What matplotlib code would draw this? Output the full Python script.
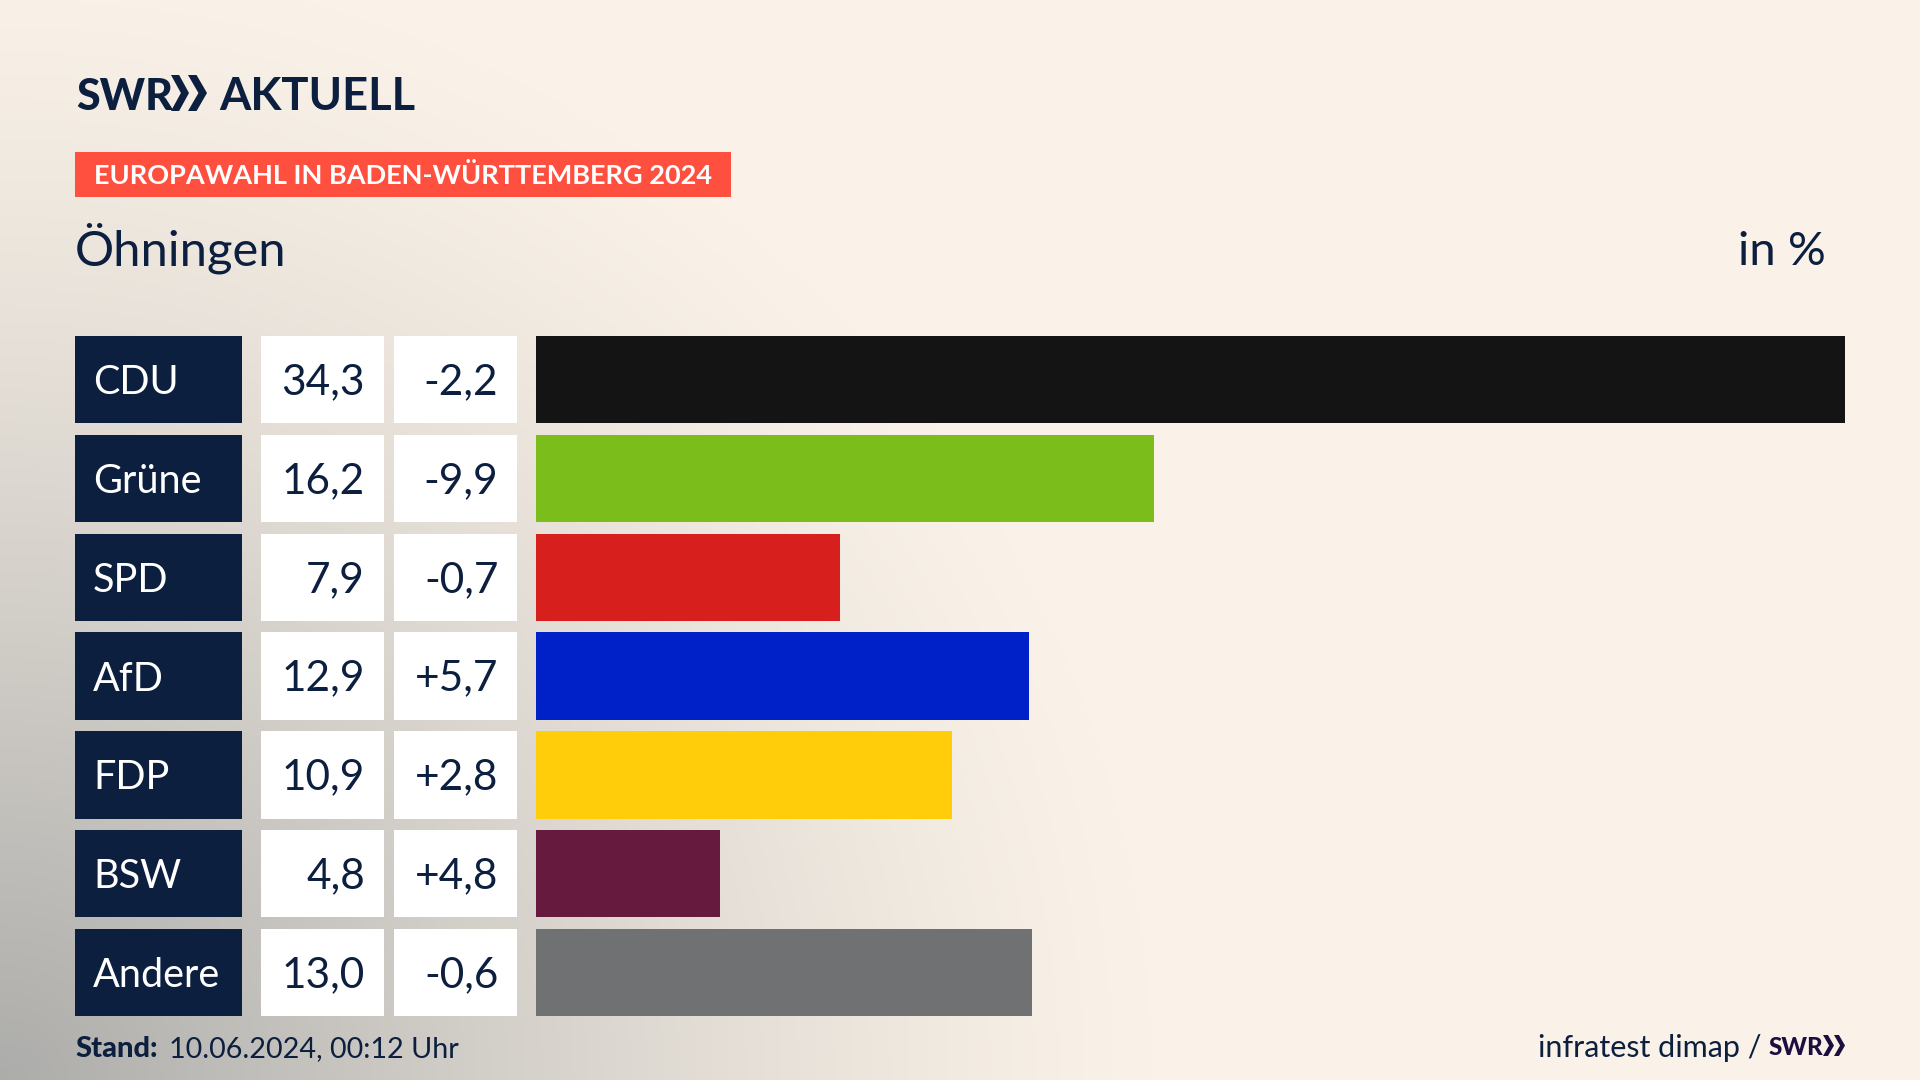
import numpy as np
import matplotlib
matplotlib.use("Agg")
import matplotlib.pyplot as plt
from matplotlib.patches import Rectangle, Polygon

# Data
parties = ["CDU", "Grüne", "SPD", "AfD", "FDP", "BSW", "Andere"]
shares = [34.3, 16.2, 7.97, 12.93, 10.9, 4.83, 13.0]  # bar lengths as measured
share_labels = ["34,3", "16,2", "7,9", "12,9", "10,9", "4,8", "13,0"]
change_labels = ["-2,2", "-9,9", "-0,7", "+5,7", "+2,8", "+4,8", "-0,6"]
colors = ["#141414", "#7bbd1a", "#d7201d", "#0020c8", "#ffcd0a", "#661a3e", "#707172"]

NAVY = "#0c1f3f"
PURPLE = "#1c0f40"
FONT = "Lato"
W, H = 1920, 1080
ROW_TOP = 336
ROW_H = 87.4
PITCH = 98.8

fig = plt.figure(figsize=(19.2, 10.8), dpi=100)

# full figure axes in pixels for background, boxes and text
bg = fig.add_axes([0, 0, 1, 1])
bg.set_xlim(0, W)
bg.set_ylim(H, 0)
bg.axis("off")

# cream background with grey glow from the bottom left corner
xx, yy = np.meshgrid(np.arange(0, W, 4), np.arange(0, H, 4))
d = np.sqrt((xx / 1150) ** 2 + ((H - yy) / 1120) ** 2)
t = np.clip(1 - d, 0, 1) ** 1.25
cream = np.array([250, 242, 232]) / 255
grey = np.array([172, 172, 170]) / 255
img = cream + t[..., None] * (grey - cream)
bg.imshow(img, extent=[0, W, H, 0], aspect="auto", zorder=0)

# logo
bg.text(76, 110, "SWR", family=FONT, weight="black", fontsize=31, color=NAVY, va="baseline")
bg.text(219, 110, "AKTUELL", family=FONT, weight="bold", fontsize=32.6, color=NAVY, va="baseline")
for x0, w, y0, y1, c in [(171, 18, 75, 111, NAVY), (188, 19, 75, 111, NAVY),
                         (1823, 11, 1035, 1056, PURPLE), (1834, 11, 1035, 1056, PURPLE)]:
    ym = (y0 + y1) / 2
    thick = w * 0.45
    bg.add_patch(Polygon([(x0, y0), (x0 + thick, y0), (x0 + w, ym), (x0 + thick, y1), (x0, y1),
                          (x0 + w - thick, ym)], closed=True, fc=c, ec="none", zorder=2))

# red banner
bg.add_patch(Rectangle((75, 152), 656, 45, fc="#ff4f3e", ec="none", zorder=1))
bg.text(94, 184, "EUROPAWAHL IN BADEN-WÜRTTEMBERG 2024", family=FONT, weight="bold",
        fontsize=19.55, color="white", va="baseline")

# headers
bg.text(75, 265, "Öhningen", family=FONT, fontsize=35.3, color=NAVY, va="baseline")
bg.text(1826, 265, "in %", family=FONT, fontsize=34, color=NAVY, va="baseline", ha="right")

# table columns
for i, (party, share, change) in enumerate(zip(parties, share_labels, change_labels)):
    top = ROW_TOP + i * PITCH
    base = top + ROW_H / 2 + 14.5
    bg.add_patch(Rectangle((75, top), 167, ROW_H, fc=NAVY, ec="none", zorder=1))
    bg.add_patch(Rectangle((261, top), 123, ROW_H, fc="white", ec="none", zorder=1))
    bg.add_patch(Rectangle((394, top), 123, ROW_H, fc="white", ec="none", zorder=1))
    bg.text(93, base, party, family=FONT, fontsize=28.5, color="white", va="baseline")
    bg.text(365, base, share, family=FONT, fontsize=30.5, color=NAVY, va="baseline", ha="right")
    bg.text(498.5, base, change, family=FONT, fontsize=30.5, color=NAVY, va="baseline", ha="right")

# bars
ax_top = ROW_TOP
ax_bottom = ROW_TOP + 6 * PITCH + ROW_H
ax = fig.add_axes([536 / W, 1 - ax_bottom / H, (1845 - 536) / W, (ax_bottom - ax_top) / H])
ax.patch.set_alpha(0)
ax.barh(range(len(parties)), shares, height=ROW_H / PITCH, color=colors)
ax.set_xlim(0, max(shares))
pad = ROW_H / PITCH / 2
ax.set_ylim(len(parties) - 1 + pad, -pad)
ax.axis("off")

# footer
bg.text(75, 1057, "Stand:", family=FONT, weight="black", fontsize=21, color=NAVY, va="baseline")
bg.text(169, 1057, "10.06.2024, 00:12 Uhr", family=FONT, fontsize=20.7, color=NAVY, va="baseline")
bg.text(1761, 1057, "infratest dimap /", family=FONT, fontsize=22, color=NAVY, va="baseline", ha="right")
bg.text(1769, 1055, "SWR", family=FONT, weight="black", fontsize=17.5, color=PURPLE, va="baseline")

fig.savefig("out.png", dpi=100)
